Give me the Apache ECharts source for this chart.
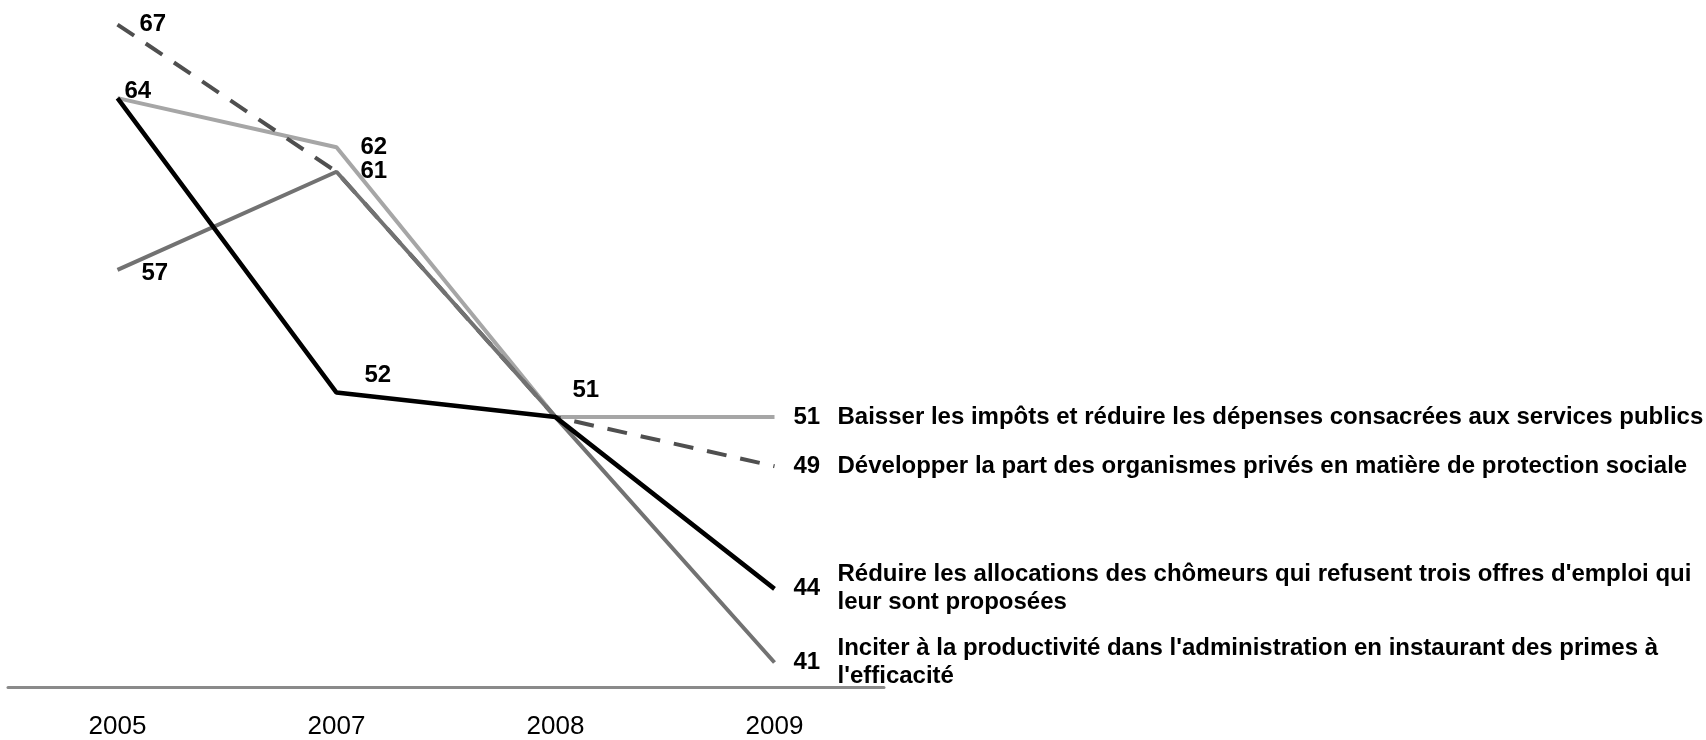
<!DOCTYPE html>
<html>
<head>
<meta charset="utf-8">
<script src="https://cdn.jsdelivr.net/npm/echarts@6/dist/echarts.min.js"></script>
<style>
html,body{margin:0;padding:0;background:#fff;}
#chart{width:1706px;height:740px;}
</style>
</head>
<body>
<div id="chart"></div>
<script>
const years = ['2005', '2007', '2008', '2009'];
const baisser = [64, 62, 51, 51];
const developper = [67, 61, 51, 49];
const inciter = [57, 61, 51, 41];
const reduire = [64, 52, 51, 44];
const names = [
  'Baisser les impôts et réduire les dépenses consacrées aux services publics',
  'Développer la part des organismes privés en matière de protection sociale',
  "Inciter à la productivité dans l'administration en instaurant des primes à\nl'efficacité",
  "Réduire les allocations des chômeurs qui refusent trois offres d'emploi qui\nleur sont proposées"
];

const FONT = "'Liberation Sans', Arial, Helvetica, sans-serif";
const numStyle = { show: true, position: 'right', color: '#000', fontFamily: FONT, fontWeight: 'bold', fontSize: 24 };

// label settings per point: null = hidden
function buildData(values, labelCfgs) {
  return values.map((v, i) => {
    const cfg = labelCfgs[i];
    return {
      value: v,
      label: cfg ? Object.assign({}, numStyle, cfg) : { show: false }
    };
  });
}

function makeSeries(name, values, color, lineType, width, labelCfgs) {
  return {
    name: name,
    type: 'line',
    data: buildData(values, labelCfgs),
    symbol: 'circle',
    symbolSize: 0.01,
    showSymbol: true,
    itemStyle: { color: color },
    lineStyle: { color: color, width: width, type: lineType, cap: 'butt' },
    emphasis: { disabled: true },
    endLabel: {
      show: true,
      formatter: name,
      distance: 63,
      color: '#000',
      fontFamily: FONT,
      fontWeight: 'bold',
      fontSize: 24,
      lineHeight: 28,
      align: 'left',
      verticalAlign: 'middle'
    }
  };
}

const chart = echarts.init(document.getElementById('chart'), null, { renderer: 'canvas' });
chart.setOption({
  animation: false,
  backgroundColor: '#fff',
  grid: { left: 8, right: 822, top: 0, bottom: 51, containLabel: false },
  xAxis: {
    type: 'category',
    data: years,
    boundaryGap: true,
    axisLine: { show: true, lineStyle: { color: '#8a8a8a', width: 3 } },
    axisTick: { show: false },
    axisLabel: { color: '#000', fontFamily: FONT, fontSize: 26, margin: 27 },
    splitLine: { show: false }
  },
  yAxis: {
    type: 'value',
    min: 40,
    max: 68,
    interval: 4,
    show: false,
    splitLine: { show: false }
  },
  series: [
    makeSeries(names[0], baisser, '#a6a6a6', 'solid', 4,
      [null, { distance: 24 }, null, { distance: 19 }]),
    makeSeries(names[1], developper, '#4f4f4f', [20, 14], 4,
      [{ distance: 22 }, null, null, { distance: 19 }]),
    makeSeries(names[2], inciter, '#727272', 'solid', 4,
      [{ distance: 24, offset: [0, 3] }, { distance: 24 }, null, { distance: 19 }]),
    makeSeries(names[3], reduire, '#000000', 'solid', 4.5,
      [{ distance: 7, offset: [0, -7] }, { distance: 28, offset: [0, -17] }, { distance: 17, offset: [0, -27] }, { distance: 19 }])
  ]
});
</script>
</body>
</html>
